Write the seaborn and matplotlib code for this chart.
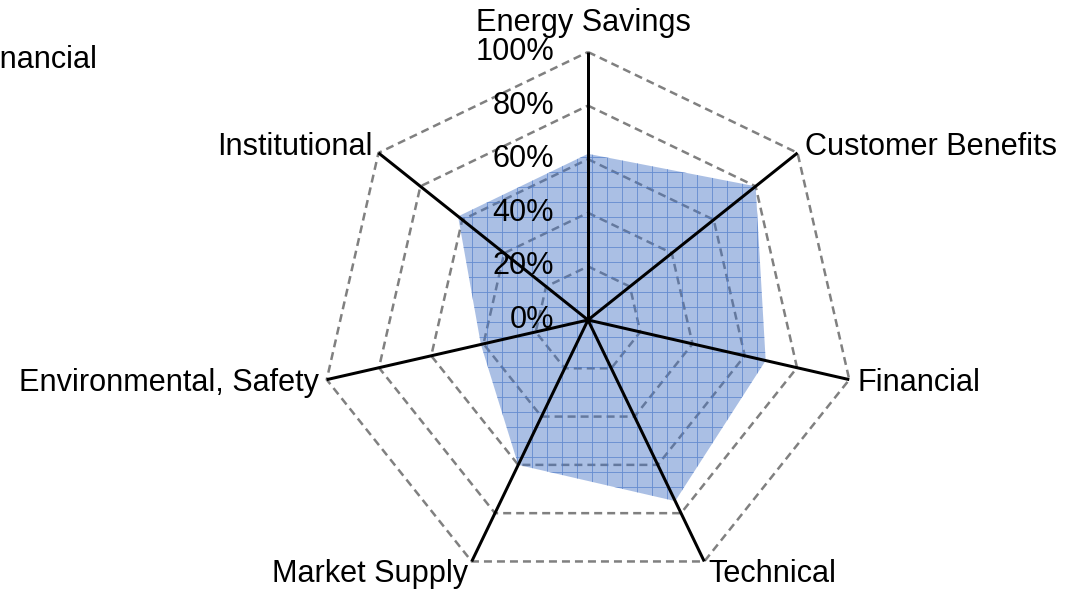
import numpy as np
import pandas as pd
import seaborn as sns
import matplotlib
matplotlib.use("Agg")
import matplotlib.pyplot as plt
from matplotlib.patches import Polygon

# data
categories = ["Energy Savings", "Customer Benefits", "Financial", "Technical",
              "Market Supply", "Environmental, Safety", "Institutional"]
values = [62, 80, 68, 75, 60, 41, 62]
ring_levels = [20, 40, 60, 80, 100]
tick_levels = [0, 20, 40, 60, 80, 100]
tick_labels = ["0%", "20%", "40%", "60%", "80%", "100%"]
legend_label = "Financial"

sns.set_theme(style="white")
plt.rcParams['font.family'] = ['Liberation Sans', 'DejaVu Sans']
plt.rcParams['hatch.linewidth'] = 0.7

DPI = 90
FS = 24.5
fig = plt.figure(figsize=(1065 / DPI, 590 / DPI), dpi=DPI)
ax = fig.add_axes([0, 0, 1, 1])
R = 268.0
ax.set_xlim(-588 / R, (1065 - 588) / R)
ax.set_ylim(-270 / R, 320 / R)
ax.set_axis_off()

n = len(categories)
ang = np.arange(n) * 2 * np.pi / n  # clockwise from top


def to_xy(r, a):
    return r * np.sin(a), r * np.cos(a)


# dashed polygon rings
rows = []
for lvl in ring_levels:
    for i in list(range(n)) + [0]:
        x, y = to_xy(lvl / 100, ang[i])
        rows.append({"ring": lvl, "x": x, "y": y})
rings = pd.DataFrame(rows)
for lvl, g in rings.groupby("ring"):
    ax.plot(g["x"], g["y"], color="#808080", lw=2.0, dashes=(3.2, 2.0), zorder=1)

# filled area with grid hatch
px, py = to_xy(np.array(values) / 100, ang)
pts = np.column_stack([px, py])
ax.add_patch(Polygon(pts, closed=True, facecolor="#4472C4", alpha=0.45,
                     edgecolor="none", zorder=2))
ax.add_patch(Polygon(pts, closed=True, facecolor="none", edgecolor="#4a78c8",
                     lw=0, hatch="+", alpha=0.7, zorder=2))

# tick labels
for lvl, lab in zip(tick_levels, tick_labels):
    ax.text(-34 / R, lvl / 100, lab, ha="right", va="center", fontsize=FS,
            color="black", zorder=3)

# spokes
for a in ang:
    ex, ey = to_xy(1.0, a)
    ax.plot([0, ex], [0, ey], color="black", lw=2.4, zorder=4,
            solid_capstyle="butt")

# category labels
offsets = [(-5, 21, "center", "baseline"), (7, 6, "left", "center"),
           (8, -3, "left", "center"), (4, -13, "left", "center"),
           (-4, -13, "right", "center"), (-8, -3, "right", "center"),
           (-6, 6, "right", "center")]
for cat, a, (dx, dy, ha, va) in zip(categories, ang, offsets):
    ex, ey = to_xy(1.0, a)
    ax.annotate(cat, (ex, ey), xytext=(dx, dy), textcoords="offset pixels",
                ha=ha, va=va, fontsize=FS, color="black")

# clipped legend text at top-left
fig.text(97 / 1065, 1 - 60 / 590, legend_label, ha="right", va="center",
         fontsize=FS, color="black")

fig.savefig("out.png", dpi=DPI)
